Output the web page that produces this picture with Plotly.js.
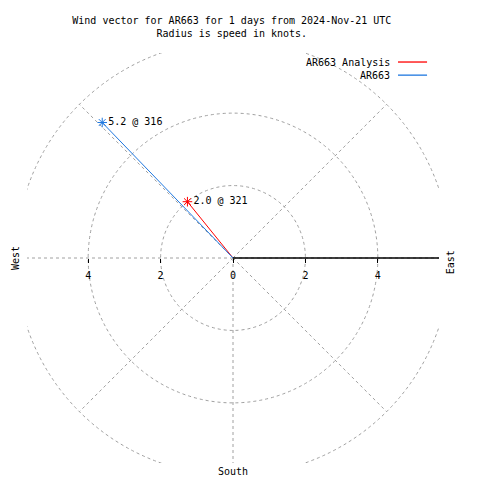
<!DOCTYPE html>
<html>
<head>
<meta charset="utf-8">
<script src="https://cdn.plot.ly/plotly-3.0.1.min.js"></script>
<style>html,body{margin:0;padding:0;background:#fff}#chart{width:480px;height:480px}</style>
</head>
<body>
<div id="chart"></div>
<script>
// ---- data ----
const seriesNames = ['AR663 Analysis', 'AR663'];
const speeds = [2.0, 5.2];          // knots
const directions = [321, 316];      // degrees, clockwise from north
const seriesColors = ['#ff0000', '#1f78e0'];
const ringRadii = [2, 4, 6];
const spokeAngles = [45, 90, 135, 180, 225, 270, 315]; // compass degrees (east handled by axis line)
const tickVals = [-4, -2, 0, 2, 4];
const tickText = ['4', '2', '0', '2', '4'];
const titleLines = ['Wind vector for AR663 for 1 days from 2024-Nov-21 UTC', 'Radius is speed in knots.'];

const FONT = 'DejaVu Sans Mono, Liberation Mono, monospace';
const GRID = '#a0a0a0';
const rad = d => d * Math.PI / 180;

const traces = [];
seriesNames.forEach((name, i) => {
  const xe = speeds[i] * Math.sin(rad(directions[i]));
  const ye = speeds[i] * Math.cos(rad(directions[i]));
  traces.push({
    x: [0, xe], y: [0, ye], mode: 'lines', name: name, showlegend: false,
    line: {color: seriesColors[i], width: 1}, hoverinfo: 'skip', cliponaxis: false
  });
  traces.push({
    x: [xe], y: [ye], mode: 'markers+text', showlegend: false,
    text: [speeds[i].toFixed(1) + ' @ ' + directions[i]],
    textposition: 'middle right',
    textfont: {family: FONT, size: 10, color: '#000'},
    marker: {symbol: 'asterisk-open', size: 8, color: seriesColors[i], line: {color: seriesColors[i], width: 1}},
    hoverinfo: 'skip', cliponaxis: false
  });
});

const shapes = [];
ringRadii.forEach(r => shapes.push({
  type: 'circle', xref: 'x', yref: 'y', x0: -r, x1: r, y0: -r, y1: r,
  line: {color: GRID, width: 1, dash: '3px,3px'}, layer: 'below'
}));
const rMax = ringRadii[ringRadii.length - 1];
spokeAngles.forEach(a => shapes.push({
  type: 'line', xref: 'x', yref: 'y', x0: 0, y0: 0,
  x1: rMax * Math.sin(rad(a)), y1: rMax * Math.cos(rad(a)),
  line: {color: GRID, width: 1, dash: '3px,3px'}, layer: 'below'
}));
// east radial axis line
shapes.push({type: 'line', xref: 'x', yref: 'y', x0: 0, y0: 0, x1: rMax, y1: 0,
  line: {color: '#000', width: 1.5}, layer: 'above'});

// legend (text left, line right)
const annotations = [];
seriesNames.forEach((name, i) => {
  const py = 0.978 - i * 0.032;
  annotations.push({xref: 'paper', yref: 'paper', x: 0.885, y: py, xanchor: 'right', yanchor: 'middle',
    text: name, showarrow: false, font: {family: FONT, size: 10, color: '#000'}});
  shapes.push({type: 'line', xref: 'paper', yref: 'paper', x0: 0.9005, x1: 0.971, y0: py, y1: py,
    line: {color: seriesColors[i], width: 1.3}});
});
// compass labels
annotations.push({xref: 'paper', yref: 'paper', x: -0.029, y: 0.5, xanchor: 'center', yanchor: 'middle',
  text: 'West', textangle: -90, showarrow: false, font: {family: FONT, size: 10, color: '#000'}});
annotations.push({xref: 'paper', yref: 'paper', x: 1.027, y: 0.49, xanchor: 'center', yanchor: 'middle',
  text: 'East', textangle: -90, showarrow: false, font: {family: FONT, size: 10, color: '#000'}});
annotations.push({xref: 'paper', yref: 'paper', x: 0.5, y: -0.02, xanchor: 'center', yanchor: 'middle',
  text: 'South', showarrow: false, font: {family: FONT, size: 10, color: '#000'}});

const layout = {
  width: 480, height: 480,
  margin: {l: 27, r: 41, t: 53, b: 17},
  paper_bgcolor: '#fff', plot_bgcolor: '#fff',
  showlegend: false,
  title: {text: titleLines.join('<br>'), font: {family: FONT, size: 10, color: '#000'},
    xref: 'container', x: 0.483, xanchor: 'center', yref: 'container', y: 0.95, yanchor: 'top'},
  xaxis: {range: [-5.69, 5.69], anchor: 'free', position: 0.5, showgrid: false, zeroline: false,
    showline: false, tickmode: 'array', tickvals: tickVals, ticktext: tickText,
    ticks: 'outside', ticklen: 4, tickcolor: '#000', ticklabelstandoff: 4,
    tickfont: {family: FONT, size: 10, color: '#000'}, fixedrange: true},
  yaxis: {range: [-5.66, 5.66], showgrid: false, zeroline: false, showline: false,
    showticklabels: false, ticks: '', fixedrange: true},
  shapes: shapes,
  annotations: annotations,
  font: {family: FONT, size: 10, color: '#000'}
};

Plotly.newPlot('chart', traces, layout, {staticPlot: true, displayModeBar: false});
</script>
</body>
</html>
